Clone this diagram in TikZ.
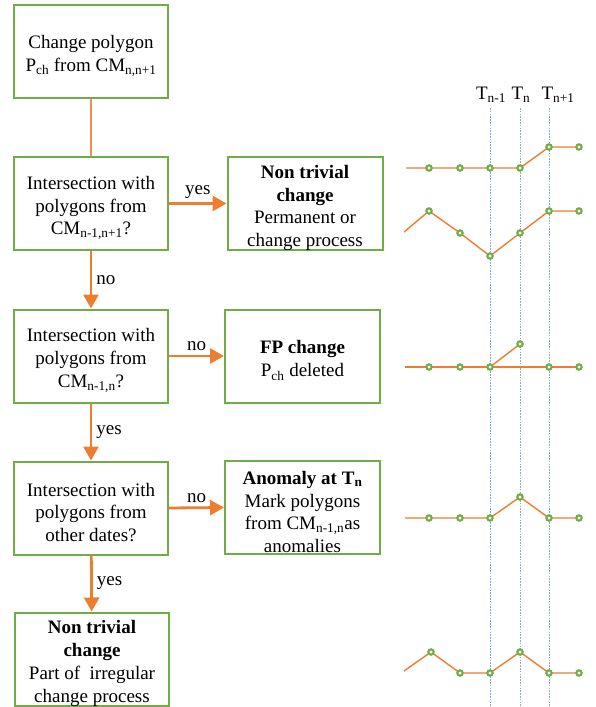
\documentclass[tikz,border=0pt]{standalone}
\usepackage{fontspec}
\setmainfont{Liberation Serif}
\usetikzlibrary{arrows.meta}
\definecolor{bgreen}{HTML}{70AD47}
\definecolor{orng}{HTML}{ED7D31}
\definecolor{lblue}{HTML}{5B9BD5}
\tikzset{
  box/.style={draw=bgreen, line width=2pt, minimum width=154pt, minimum height=93pt, inner sep=0pt},
  rbox/.style={box, minimum width=155pt},
  boxtext/.style={align=center, inner sep=0pt, yshift=-4.5pt, font=\fontsize{19}{22.8}\selectfont},
  arr/.style={draw=orng, line width=2.8pt, -{Triangle[length=14pt,width=15pt]}},
  thinc/.style={draw=orng!85, line width=1.2pt},
  lbl/.style={font=\fontsize{19}{22}\selectfont, inner sep=4pt},
  tlab/.style={font=\fontsize{19}{22}\selectfont, inner sep=1pt},
  vline/.style={draw=lblue!80, line width=0.6pt, dash pattern=on 1.6pt off 1.2pt},
  serie/.style={draw=orng, line width=1.4pt, line join=round},
  mk/.style={draw=bgreen, fill=white, line width=2.1pt}
}
\begin{document}
\begin{tikzpicture}[x=1pt,y=-1pt]
\useasboundingbox (0,0) rectangle (595,707);
% flowchart boxes
\node[box, label={[boxtext]center:{Change polygon\\P\textsubscript{ch} from CM\textsubscript{n,n+1}}}] (b1) at (91,51.5) {};
\node[box, label={[boxtext]center:{Intersection with\\polygons from\\CM\textsubscript{n-1,n+1}?}}] (b2) at (91,203.5) {};
\node[rbox, label={[boxtext]center:{\textbf{Non trivial}\\\textbf{change}\\Permanent or\\change process}}] (r2) at (305,203.5) {};
\node[box, label={[boxtext]center:{Intersection with\\polygons from\\CM\textsubscript{n-1,n}?}}] (b3) at (91,356) {};
\node[rbox, label={[boxtext]center:{\textbf{FP change}\\P\textsubscript{ch} deleted}}] (r3) at (302.5,356) {};
\node[box, label={[boxtext]center:{Intersection with\\polygons from\\other dates?}}] (b4) at (91,508) {};
\node[rbox, label={[boxtext]center:{\textbf{Anomaly at T\textsubscript{n}}\\Mark polygons\\from CM\textsubscript{n-1,n}as\\anomalies}}] (r4) at (302.5,507.5) {};
\node[box, label={[boxtext]center:{\textbf{Non trivial}\\\textbf{change}\\Part of~ irregular\\change process}}] (b5) at (92,659) {};
% connectors
\draw[thinc] (b1) -- (b2);
\draw[arr] (b2.east) -- node[lbl, above]{yes} (r2.west);
\draw[arr] (b2) -- node[lbl, right]{no} (b3);
\draw[arr] (b3.east) -- node[lbl, above]{no} (r3.west);
\draw[arr] (b3) -- node[lbl, right]{yes} (b4);
\draw[arr] (b4.east) -- node[lbl, above]{no} (r4.west);
\draw[arr] (b4) -- node[lbl, right]{yes} (b5);
% time axis
\node[tlab] (t1) at (491,95) {T\textsubscript{n-1}};
\node[tlab] (t2) at (521,95) {T\textsubscript{n}};
\node[tlab] (t3) at (558,95) {T\textsubscript{n+1}};
\draw[vline] (490,108) -- (490,707);
\draw[vline] (520,108) -- (520,707);
\draw[vline] (549,108) -- (549,707);
% series
\draw[serie] (406,168)--(429,168)--(460,168)--(490,168)--(520,168)--(549,147)--(579,147);
\draw[serie] (404,232)--(429,211)--(460,233)--(490,256)--(520,233)--(549,211)--(579,211);
\draw[serie] (405,367)--(429,367)--(460,367)--(490,367)--(549,367)--(579,367);
\draw[serie] (490,367)--(520,344);
\draw[serie] (405,518)--(429,518)--(460,518)--(490,518)--(520,497)--(549,518)--(579,518);
\draw[serie] (404,671)--(431,652)--(460,673)--(490,673)--(520,652)--(549,673)--(579,673);
\foreach \p in {(429,168),(460,168),(490,168),(520,168),(549,147),(579,147),
  (429,211),(460,233),(490,256),(520,233),(549,211),(579,211),
  (429,367),(460,367),(490,367),(520,344),(549,367),(579,367),
  (429,518),(460,518),(490,518),(520,497),(549,518),(579,518),
  (431,652),(460,673),(490,673),(520,652),(549,673),(579,673)}
  \draw[mk] \p circle (2.7pt);
\end{tikzpicture}
\end{document}
